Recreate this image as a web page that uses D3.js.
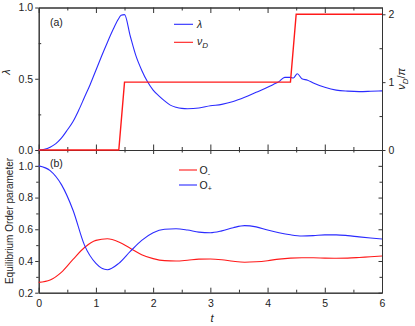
<!DOCTYPE html>
<html><head><meta charset="utf-8">
<script src="https://cdn.jsdelivr.net/npm/d3@7"></script>
<style>
body{margin:0;background:#fff}
svg{display:block}
text{font-family:"Liberation Sans",Arial,sans-serif;fill:#222}
</style>
</head><body><svg id="c" width="415" height="326"></svg>
<script>
// ---------- data ----------
const tTop = [0,0.1,0.2,0.3,0.4,0.5,0.6,0.7,0.8,0.9,1.0,1.1,1.2,1.3,1.38,1.44,1.5,1.6,1.7,1.8,1.9,2.0,2.1,2.2,2.3,2.4,2.5,2.6,2.8,3.0,3.2,3.4,3.6,3.8,4.0,4.1,4.2,4.3,4.4,4.45,4.52,4.6,4.7,4.8,5.0,5.2,5.4,5.6,5.8,6.0];
const lambdaVals = [0,0.005,0.02,0.045,0.085,0.14,0.2,0.28,0.37,0.46,0.56,0.66,0.755,0.845,0.91,0.945,0.95,0.8,0.66,0.56,0.48,0.42,0.38,0.345,0.315,0.3,0.292,0.29,0.295,0.31,0.32,0.34,0.37,0.405,0.44,0.46,0.48,0.51,0.51,0.505,0.535,0.5,0.49,0.47,0.44,0.42,0.413,0.41,0.412,0.415];
const tNu = [0,1.4,1.5,4.4,4.5,6];
const nuVals = [0,0,1,1,2,2];
const tBot = [0,0.2,0.4,0.6,0.8,1.0,1.2,1.4,1.6,1.8,2.0,2.2,2.4,2.6,2.8,3.0,3.2,3.4,3.6,3.8,4.0,4.2,4.4,4.6,4.8,5.0,5.2,5.4,5.6,5.8,6.0];
const oPlus = [1.0,0.97,0.88,0.72,0.5,0.385,0.345,0.385,0.46,0.53,0.578,0.6,0.603,0.595,0.582,0.578,0.59,0.61,0.623,0.615,0.595,0.578,0.565,0.558,0.56,0.565,0.565,0.56,0.552,0.545,0.539];
const oMinus = [0.265,0.28,0.33,0.41,0.485,0.53,0.54,0.52,0.48,0.44,0.415,0.402,0.40,0.405,0.412,0.413,0.408,0.398,0.392,0.395,0.402,0.412,0.418,0.42,0.42,0.418,0.417,0.418,0.422,0.427,0.431];
const xTicks = [0,1,2,3,4,5,6];
const xMinor = [0.5,1.5,2.5,3.5,4.5,5.5];
const lambdaTicks = [0,0.5,1.0];
const lambdaMinor = [0.25,0.75];
const nuTicks = [0,1,2];
const nuMinor = [0.5,1.5];
const orderTicks = [0.2,0.4,0.6,0.8,1.0];
const orderMinor = [0.3,0.5,0.7,0.9];

// ---------- layout ----------
const L=38.7, R=382, T1=7.5, B1=150, T2=150, B2=292.7;
const svg = d3.select("#c");
const x = d3.scaleLinear().domain([0,6]).range([L,R]);
const yL = d3.scaleLinear().domain([0,1]).range([B1,T1]);
const yNu = d3.scaleLinear().domain([0,2.1]).range([B1,T1]);
const yO = d3.scaleLinear().domain([0.2,1.1]).range([B2,T2]);
const BLUE="#2b2bff", RED="#ff1a1a", AX="#333";

function addAxis(gen, tx, ty, vals, size, pad, fmt, fs){
  const g = svg.append("g").attr("transform",`translate(${tx},${ty})`)
    .call(gen.tickValues(vals).tickSizeInner(size).tickSizeOuter(0).tickPadding(pad).tickFormat(fmt||""));
  g.selectAll("path,line").attr("stroke",AX).attr("stroke-width",1);
  g.selectAll("text").attr("font-family","Liberation Sans, Arial, sans-serif").attr("font-size",fs||10.5).attr("fill","#222");
  return g;
}
const f1 = d3.format(".1f"), f0 = d3.format("d");

// top panel axes
addAxis(d3.axisTop(x), 0, T1, xTicks, -5.5);
addAxis(d3.axisTop(x), 0, T1, xMinor, -3);
addAxis(d3.axisBottom(x), 0, B1, xTicks, -5.5);
addAxis(d3.axisBottom(x), 0, B1, xMinor, -3);
addAxis(d3.axisLeft(yL), L, 0, lambdaTicks, 3.5, 2, f1);
addAxis(d3.axisLeft(yL), L, 0, lambdaMinor, -2.5);
addAxis(d3.axisRight(yNu), R, 0, nuTicks, 3.5, 3, f0);
addAxis(d3.axisRight(yNu), R, 0, nuMinor, -2.5);

// bottom panel axes
addAxis(d3.axisTop(x), 0, T2, xTicks, -4);
addAxis(d3.axisTop(x), 0, T2, xMinor, -2.5);
addAxis(d3.axisBottom(x), 0, B2, xTicks, -5, 6.5, f0);
addAxis(d3.axisBottom(x), 0, B2, xMinor, -3);
addAxis(d3.axisLeft(yO), L, 0, orderTicks, 3.5, 2, f1);
addAxis(d3.axisLeft(yO), L, 0, orderMinor, 2.5);
addAxis(d3.axisRight(yO), R, 0, orderTicks, -3.5);
addAxis(d3.axisRight(yO), R, 0, orderMinor, -2.5);

// ---------- lines ----------
const lineL = d3.line().x((d,i)=>x(tTop[i])).y(d=>yL(d)).curve(d3.curveMonotoneX);
svg.append("path").datum(lambdaVals).attr("d",lineL).attr("fill","none").attr("stroke",BLUE).attr("stroke-width",1.1);
const lineNu = d3.line().x((d,i)=>x(tNu[i])).y(d=>yNu(d));
svg.append("path").datum(nuVals).attr("d",lineNu).attr("fill","none").attr("stroke",RED).attr("stroke-width",1.4);

const lineO = d3.line().x((d,i)=>x(tBot[i])).y(d=>yO(d)).curve(d3.curveMonotoneX);
svg.append("path").datum(oMinus).attr("d",lineO).attr("fill","none").attr("stroke",RED).attr("stroke-width",1.1);
svg.append("path").datum(oPlus).attr("d",lineO).attr("fill","none").attr("stroke",BLUE).attr("stroke-width",1.1);

// ---------- labels ----------
function txt(x0,y0,s,opts={}){
  const t = svg.append("text").attr("x",x0).attr("y",y0).attr("font-size",opts.fs||10.5);
  if(opts.anchor) t.attr("text-anchor",opts.anchor);
  if(opts.italic) t.attr("font-style","italic");
  if(opts.rot) t.attr("transform",`rotate(${opts.rot},${x0},${y0})`);
  t.text(s);
  return t;
}
txt(50,26,"(a)",{fs:10.5});
txt(50,167,"(b)",{fs:10.5});
txt(212,322,"t",{italic:true,anchor:"middle",fs:11});
txt(10,72,"λ",{italic:true,anchor:"middle",rot:-90,fs:11});
txt(13,221,"Equilibrium Order parameter",{anchor:"middle",rot:-90,fs:10});
// right label nu_D / pi
{
  const t = svg.append("text").attr("x",405).attr("y",79).attr("text-anchor","middle")
    .attr("font-size",11).attr("transform","rotate(-90,405,79)");
  t.append("tspan").attr("font-style","italic").text("ν");
  t.append("tspan").attr("font-style","italic").attr("font-size",8).attr("dy",2.5).text("D");
  t.append("tspan").attr("dy",-2.5).text("/");
  t.append("tspan").attr("font-style","italic").text("π");
}
// legends
const lgTop = [{c:BLUE,y:24.3},{c:RED,y:42.3}];
lgTop.forEach(d=>svg.append("line").attr("x1",174).attr("x2",193).attr("y1",d.y).attr("y2",d.y).attr("stroke",d.c).attr("stroke-width",1.1));
txt(197,28,"λ",{italic:true,fs:10.5});
{
  const t = svg.append("text").attr("x",197).attr("y",45).attr("font-size",10.5);
  t.append("tspan").attr("font-style","italic").text("ν");
  t.append("tspan").attr("font-style","italic").attr("font-size",8).attr("dy",3).text("D");
}
const lgBot = [{c:RED,y:170},{c:BLUE,y:185}];
lgBot.forEach(d=>svg.append("line").attr("x1",179).attr("x2",197).attr("y1",d.y).attr("y2",d.y).attr("stroke",d.c).attr("stroke-width",1.1));
{
  const t = svg.append("text").attr("x",199.5).attr("y",174).attr("font-size",10.5);
  t.append("tspan").text("O");
  t.append("tspan").attr("font-size",7).attr("dy",2).text("-");
}
{
  const t = svg.append("text").attr("x",199.5).attr("y",189).attr("font-size",10.5);
  t.append("tspan").text("O");
  t.append("tspan").attr("font-size",7).attr("dy",2).text("+");
}
</script>
</body></html>
